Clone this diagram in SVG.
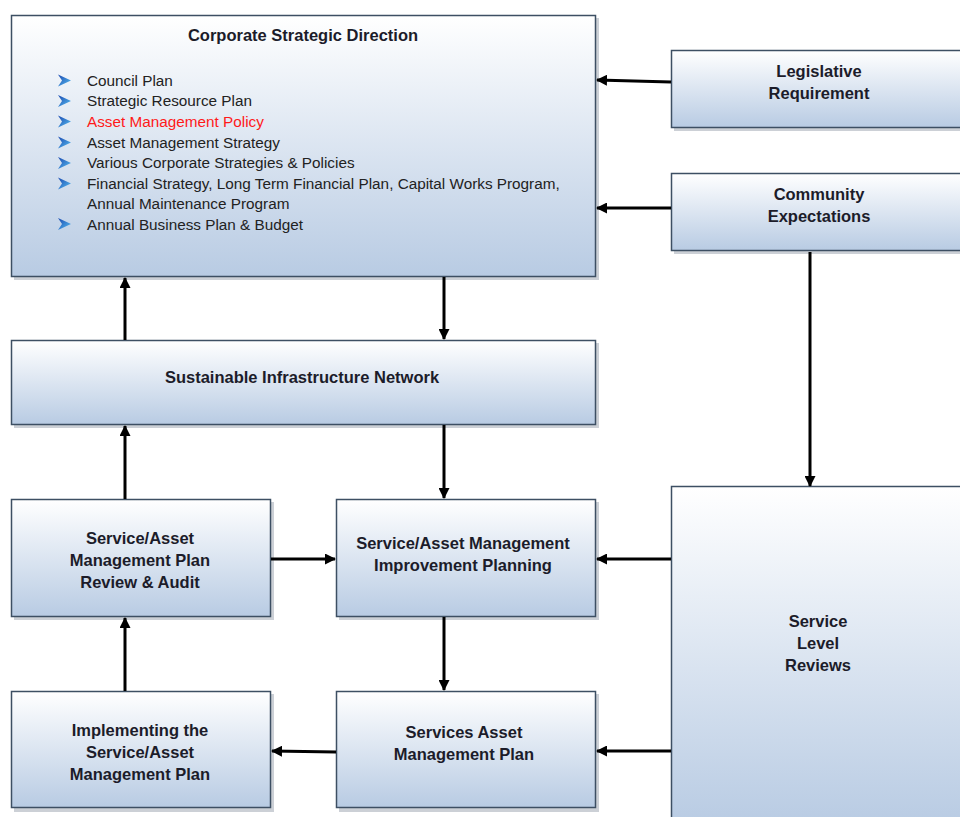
<svg xmlns="http://www.w3.org/2000/svg" width="960" height="817" viewBox="0 0 960 817">
<defs>
<linearGradient id="g" x1="0" y1="0" x2="0" y2="1">
<stop offset="0" stop-color="#ffffff"/>
<stop offset="1" stop-color="#b8cbe3"/>
</linearGradient>
<linearGradient id="bl" x1="0" y1="0" x2="1" y2="1">
<stop offset="0" stop-color="#1a48b0"/>
<stop offset="1" stop-color="#58c0f2"/>
</linearGradient>
<marker id="ah" markerWidth="11" markerHeight="11" refX="10" refY="5.5" orient="auto" markerUnits="userSpaceOnUse">
<path d="M0,0 L11,5.5 L0,11 Z" fill="#000"/>
</marker>
<polygon id="chev" points="0,0 13,6 0,12 4,6" fill="url(#bl)"/>
</defs>
<style>
.box{fill:url(#g);stroke:#3d4f63;stroke-width:1.5}
.sh{fill:#8e97a3;opacity:0.45}
.lbl{font-family:"Liberation Sans",Arial,sans-serif;font-weight:bold;font-size:16.5px;fill:#1c1c2a;text-anchor:middle}
.it{font-family:"Liberation Sans",Arial,sans-serif;font-size:15.3px;fill:#222}
.c{stroke:#000;stroke-width:3;fill:none;marker-end:url(#ah)}
</style>
<rect width="960" height="817" fill="#fff"/>

<g id="corporate">
<rect class="sh" x="14" y="18" width="585" height="262"/>
<rect class="box" x="11.5" y="15.5" width="584" height="261"/>
<text class="lbl" x="303" y="41" font-size="16">Corporate Strategic Direction</text>
<use href="#chev" x="58" y="74.5"/>
<use href="#chev" x="58" y="95"/>
<use href="#chev" x="58" y="115.5"/>
<use href="#chev" x="58" y="136.5"/>
<use href="#chev" x="58" y="157"/>
<use href="#chev" x="58" y="177.5"/>
<use href="#chev" x="58" y="218"/>
<text class="it" x="87" y="86">Council Plan</text>
<text class="it" x="87" y="106">Strategic Resource Plan</text>
<text class="it" x="87" y="127" style="fill:#ff1a1a">Asset Management Policy</text>
<text class="it" x="87" y="148">Asset Management Strategy</text>
<text class="it" x="87" y="168">Various Corporate Strategies &amp; Policies</text>
<text class="it" x="87" y="189">Financial Strategy, Long Term Financial Plan, Capital Works Program,</text>
<text class="it" x="87" y="209">Annual Maintenance Program</text>
<text class="it" x="87" y="230">Annual Business Plan &amp; Budget</text>
</g>

<g id="legislative">
<rect class="sh" x="674" y="53" width="300" height="78"/>
<rect class="box" x="671.5" y="50.5" width="300" height="77"/>
<text class="lbl" x="819" y="77">Legislative</text>
<text class="lbl" x="819" y="99">Requirement</text>
</g>

<g id="community">
<rect class="sh" x="674" y="176" width="300" height="78"/>
<rect class="box" x="671.5" y="173.5" width="300" height="77"/>
<text class="lbl" x="819" y="200">Community</text>
<text class="lbl" x="819" y="222">Expectations</text>
</g>

<g id="sustainable">
<rect class="sh" x="14" y="343" width="585" height="85"/>
<rect class="box" x="11.5" y="340.5" width="584" height="84"/>
<text class="lbl" x="302" y="383">Sustainable Infrastructure Network</text>
</g>

<g id="review">
<rect class="sh" x="14" y="502" width="260" height="118"/>
<rect class="box" x="11.5" y="499.5" width="259" height="117"/>
<text class="lbl" x="140" y="544">Service/Asset</text>
<text class="lbl" x="140" y="566">Management Plan</text>
<text class="lbl" x="140" y="588">Review &amp; Audit</text>
</g>

<g id="improvement">
<rect class="sh" x="339" y="502" width="260" height="118"/>
<rect class="box" x="336.5" y="499.5" width="259" height="117"/>
<text class="lbl" x="463" y="549">Service/Asset Management</text>
<text class="lbl" x="463" y="571">Improvement Planning</text>
</g>

<g id="implementing">
<rect class="sh" x="14" y="694" width="260" height="118"/>
<rect class="box" x="11.5" y="691.5" width="259" height="116"/>
<text class="lbl" x="140" y="736">Implementing the</text>
<text class="lbl" x="140" y="758">Service/Asset</text>
<text class="lbl" x="140" y="780">Management Plan</text>
</g>

<g id="services">
<rect class="sh" x="339" y="694" width="260" height="118"/>
<rect class="box" x="336.5" y="691.5" width="259" height="116"/>
<text class="lbl" x="464" y="738">Services Asset</text>
<text class="lbl" x="464" y="760">Management Plan</text>
</g>

<g id="service-level">
<rect class="box" x="671.5" y="486.5" width="300" height="340"/>
<text class="lbl" x="818" y="627">Service</text>
<text class="lbl" x="818" y="649">Level</text>
<text class="lbl" x="818" y="671">Reviews</text>
</g>

<g id="connectors">
<path class="c" d="M671,82 L597,80"/>
<path class="c" d="M671,208 L597,208"/>
<path class="c" d="M810,252 L810,486"/>
<path class="c" d="M444,277 L444,339"/>
<path class="c" d="M125,340 L125,278"/>
<path class="c" d="M444,425 L444,498"/>
<path class="c" d="M125,499 L125,426"/>
<path class="c" d="M271,559 L335,559"/>
<path class="c" d="M671,559 L597,559"/>
<path class="c" d="M444,617 L444,690"/>
<path class="c" d="M125,691 L125,618"/>
<path class="c" d="M336,752 L272,751"/>
<path class="c" d="M671,751 L597,751"/>
</g>
</svg>
